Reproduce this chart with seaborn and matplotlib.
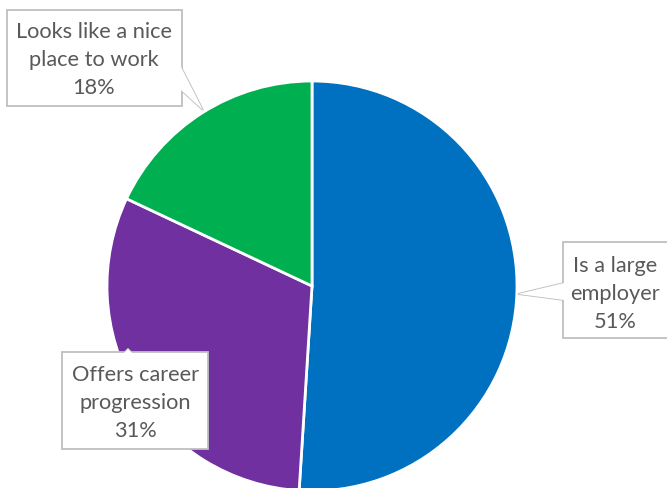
import matplotlib
matplotlib.use("Agg")
import matplotlib.pyplot as plt
import seaborn as sns
from matplotlib.patches import Rectangle, Polygon

sns.set_theme(style="white")
plt.rcParams['font.family'] = ['Lato', 'DejaVu Sans']

categories = ["Is a large\nemployer", "Offers career\nprogression", "Looks like a nice\nplace to work"]
values = [51, 31, 18]
colors = ["#0070C0", "#7030A0", "#00B050"]

W, H = 667, 489
fig = plt.figure(figsize=(W / 100, H / 100), dpi=100)

ax2 = fig.add_axes([0, 0, 1, 1])
ax2.pie(values, colors=colors, startangle=90, counterclock=False,
        center=(312, H - 287), radius=205, frame=True,
        wedgeprops=dict(edgecolor="white", linewidth=2))
ax2.set_xlim(0, W)
ax2.set_ylim(0, H)
ax2.set_aspect("auto")
ax2.axis("off")

# label boxes (layout in pixel coordinates, y down)
ax3 = fig.add_axes([0, 0, 1, 1])
ax3.set_xlim(0, W)
ax3.set_ylim(H, 0)
ax3.axis("off")

boxes = [
    (563, 243, 680, 339, 615, 294, [(564, 284), (518, 295), (564, 301)]),
    (62, 353, 208, 450, 135, 403, [(124, 354), (128, 350), (132, 354)]),
    (7, 11, 182, 107, 94, 60, [(181, 68), (203, 111), (181, 91)]),
]
edge = "#BFBFBF"
for (x0, y0, x1, y1, tx, ty, poly), cat, v in zip(boxes, categories, values):
    ax3.add_patch(Polygon(poly, closed=True, facecolor="white", edgecolor=edge, lw=1.3, zorder=2))
    ax3.add_patch(Rectangle((x0, y0), x1 - x0, y1 - y0, facecolor="white", edgecolor=edge, lw=1.3, zorder=3))
    ax3.add_patch(Polygon(poly, closed=True, facecolor="white", edgecolor="none", lw=0, zorder=4))
    ax3.text(tx, ty, f"{cat}\n{v}%", ha="center", va="center", fontsize=15.7,
             color="#595959", linespacing=1.5, zorder=5)

fig.savefig("out.png", dpi=100)
